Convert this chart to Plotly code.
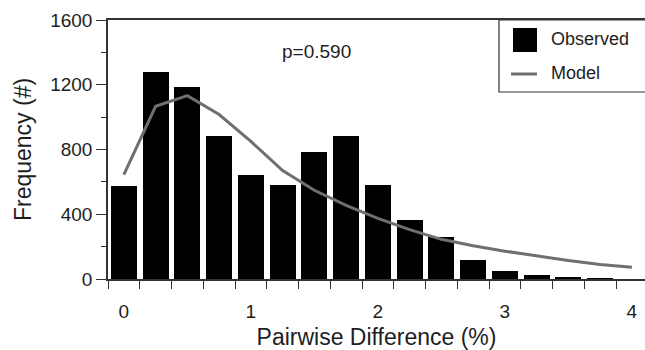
import plotly.graph_objects as go

# Data
bin_centers = [0, 0.25, 0.5, 0.75, 1.0, 1.25, 1.5, 1.75, 2.0, 2.25, 2.5, 2.75, 3.0, 3.25, 3.5, 3.75]
observed = [572, 1280, 1185, 882, 645, 583, 785, 882, 583, 367, 260, 117, 47, 22, 12, 3]

model_x = [0, 0.25, 0.5, 0.75, 1.0, 1.25, 1.5, 1.75, 2.0, 2.25, 2.5, 2.75, 3.0, 3.25, 3.5, 3.75, 4.0]
model_y = [645, 1067, 1133, 1016, 850, 670, 548, 455, 375, 305, 245, 205, 172, 142, 114, 90, 72]

x_tick_vals = [0, 1, 2, 3, 4]
y_tick_vals = [0, 400, 800, 1200, 1600]

FONT = "Liberation Sans, Arial, Helvetica, sans-serif"
TXT = "#1e1e1e"

fig = go.Figure()
fig.add_trace(go.Bar(x=bin_centers, y=observed, name="Observed", width=0.205,
                     marker=dict(color="black", line=dict(width=0)), showlegend=False))
fig.add_trace(go.Scatter(x=model_x, y=model_y, name="Model", mode="lines",
                         line=dict(color="#6f6f6f", width=3), showlegend=False))

W, H = 645, 350
L, R, T, B = 108, 0, 20, 71
pw, ph = W - L - R, H - T - B

def px(x):
    return (x - L) / pw

def py(y):
    return (H - B - y) / ph

shapes = [
    # legend box
    dict(type="rect", xref="paper", yref="paper", x0=px(499), x1=px(700), y0=py(92), y1=py(20),
         line=dict(color="#333", width=1.2), fillcolor="white", layer="above"),
    # legend square
    dict(type="rect", xref="paper", yref="paper", x0=px(513), x1=px(537), y0=py(52), y1=py(28),
         line=dict(width=0), fillcolor="black", layer="above"),
    # legend line
    dict(type="line", xref="paper", yref="paper", x0=px(511), x1=px(537), y0=py(74), y1=py(74),
         line=dict(color="#6f6f6f", width=3), layer="above"),
]

annotations = [
    dict(text="p=0.590", x=1.52, y=1405, xref="x", yref="y", showarrow=False,
         font=dict(size=19, color=TXT, family=FONT)),
    dict(text="Observed", x=px(549), y=py(39), xref="paper", yref="paper", showarrow=False,
         xanchor="left", yanchor="middle", font=dict(size=18, color=TXT, family=FONT)),
    dict(text="Model", x=px(549), y=py(73), xref="paper", yref="paper", showarrow=False,
         xanchor="left", yanchor="middle", font=dict(size=18, color=TXT, family=FONT)),
]

fig.update_layout(
    width=W, height=H,
    margin=dict(l=L, r=R, t=T, b=B, autoexpand=False),
    paper_bgcolor="white", plot_bgcolor="white",
    font=dict(family=FONT, color=TXT),
    bargap=0,
    shapes=shapes,
    annotations=annotations,
    xaxis=dict(
        range=[-0.125, -0.125 + pw / 127.0],
        tickvals=x_tick_vals, ticktext=[str(v) for v in x_tick_vals],
        ticks="outside", ticklen=14, tickcolor="rgba(0,0,0,0)",
        minor=dict(ticks="outside", ticklen=8, tick0=0.125, dtick=0.25,
                   tickcolor="#333", tickwidth=1.2, showgrid=False),
        showline=True, linecolor="#333", linewidth=1.5, mirror=True,
        showgrid=False, zeroline=False,
        tickfont=dict(size=19, color=TXT),
        title=dict(text="Pairwise Difference (%)", font=dict(size=23, color=TXT), standoff=8),
    ),
    yaxis=dict(
        range=[0, 1600],
        tickvals=y_tick_vals, ticktext=[str(v) for v in y_tick_vals],
        ticks="outside", ticklen=10, tickcolor="#333", tickwidth=1.2,
        minor=dict(ticks="outside", ticklen=5, dtick=200, tick0=0,
                   tickcolor="#333", tickwidth=1.2, showgrid=False),
        showline=True, linecolor="#333", linewidth=1.5,
        showgrid=False, zeroline=False,
        tickfont=dict(size=19, color=TXT),
        title=dict(text="Frequency (#)", font=dict(size=23, color=TXT), standoff=12),
    ),
)

fig.write_html("out.html", config={"displayModeBar": False},
               post_script="document.body.style.margin='0';document.body.style.overflow='hidden';")
